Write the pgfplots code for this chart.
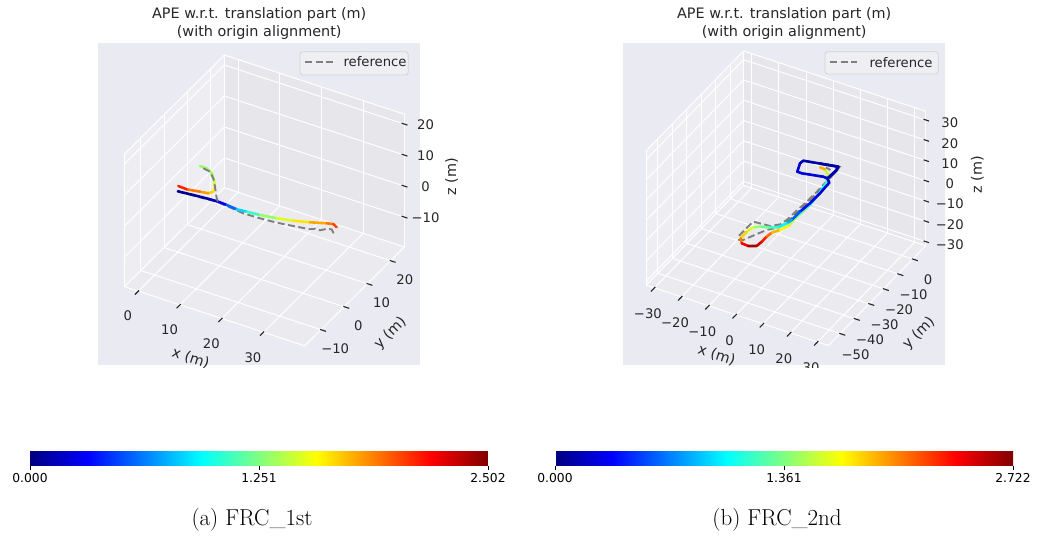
\documentclass[border=0pt]{standalone}
\usepackage{fontspec}
\newfontfamily\dv{DejaVu Sans}
\usepackage{pgfplots}
\pgfplotsset{compat=1.18}
\definecolor{bgc}{HTML}{EAEAF2}
\definecolor{panex}{HTML}{EEEEF2}
\definecolor{paney}{HTML}{E6E6EB}
\definecolor{panez}{HTML}{EBEBEF}
\definecolor{tickc}{HTML}{262626}
\definecolor{refc}{HTML}{7F7F7F}
\definecolor{legbg}{HTML}{EEEEF3}
\definecolor{legbd}{HTML}{D2D2D8}
\tikzset{
 tl/.style={font=\dv\fontsize{13.2}{15}\selectfont, text=tickc, inner sep=0pt, anchor=center},
 al/.style={font=\dv\fontsize{14.4}{16}\selectfont, text=tickc, inner sep=0pt, anchor=center},
 tt/.style={font=\dv\fontsize{14.4}{16}\selectfont, text=tickc, inner sep=0pt, anchor=center},
 tk/.style={draw=tickc, line width=1.1pt},
}
\pgfplotsset{
 paneaxis/.style={clip=false, hide axis, xticklabels={}, yticklabels={}, zticklabels={}},
 gridaxis/.style={clip=false, grid=major, major grid style={white, line width=1pt},
   axis line style={white, line width=1pt}, major tick length=0pt,
   xticklabels={}, yticklabels={}, zticklabels={}},
 Lbox/.style={at={(177.8pt,345.7pt)}, anchor=origin,
   x={(4.17pt,-1.37pt)}, y={(2.32pt,2.30pt)}, z={(0pt,3.1pt)},
   xmin=-3.3, xmax=39.9, ymin=-17, ymax=26, zmin=-19.6, zmax=23.2,
   xtick={0,10,20,30}, ytick={-10,0,10,20}, ztick={-10,0,10,20}},
 Rbox/.style={at={(820.2pt,373.4pt)}, anchor=origin,
   x={(2.72pt,-0.90pt)}, y={(1.452pt,1.49pt)}, z={(0pt,2.027pt)},
   xmin=-33, xmax=34, ymin=-58, ymax=9, zmin=-32, zmax=34.3,
   xtick={-30,-20,-10,0,10,20,30}, ytick={-50,-40,-30,-20,-10,0}, ztick={-30,-20,-10,0,10,20,30}},
 estline/.style={mesh, mesh/rows=1, point meta=explicit, line width=2.6pt, line cap=round, line join=round},
 refline/.style={draw=refc, line width=1.9pt, dash pattern=on 7pt off 3.5pt},
 cbar/.style={hide axis, scale only axis, width=1pt, height=1pt, anchor=center,
   colormap/jet, colorbar horizontal, point meta min=0,
   colorbar style={at={(parent axis.center)}, anchor=center, width=458pt, height=22pt,
     axis line style={draw=none}, xtick pos=left, tick align=outside,
     major tick length=4.5pt, xtick style={draw=black, line width=0.8pt},
     xticklabel style={font=\dv\fontsize{12.3}{14}\selectfont, text=black}}},
}
\begin{document}
\begin{tikzpicture}[x=1pt,y=1pt]
\path[use as bounding box] (0,0) rectangle (1037,537);
\fill[bgc] (98.3,172) rectangle (420,493.7);
\fill[bgc] (623.3,172) rectangle (945,493.7);
\begin{scope}
\clip (0,169) rectangle (1037,537);
% ---------------- left panes
\begin{axis}[Lbox, paneaxis]
\fill[panex] (axis cs:-3.3,-17,-19.6) -- (axis cs:-3.3,26,-19.6) -- (axis cs:-3.3,26,23.2) -- (axis cs:-3.3,-17,23.2) -- cycle;
\fill[paney] (axis cs:-3.3,26,-19.6) -- (axis cs:39.9,26,-19.6) -- (axis cs:39.9,26,23.2) -- (axis cs:-3.3,26,23.2) -- cycle;
\fill[panez] (axis cs:-3.3,-17,-19.6) -- (axis cs:39.9,-17,-19.6) -- (axis cs:39.9,26,-19.6) -- (axis cs:-3.3,26,-19.6) -- cycle;
\end{axis}
% ---------------- left grid + data
\begin{axis}[Lbox, gridaxis, colormap/jet, point meta min=0, point meta max=2.502]
\addplot3[refline] table {
x y z
0 0 0
3.50 0.26 0
7.38 0.62 0
9.33 0.69 0
11.48 0.45 0
15.80 -0.16 0
19.71 0.00 0
23.52 0.35 0
27.11 1.06 0
30.71 1.77 0
31.51 2.51 0
32.70 2.52 0
33.54 3.59 0
34.62 4.10 0
35.89 2.81 0
};
\addplot3[estline] table[meta=m] {
x y z m
0 0 0 0.0
3.46 0.45 0 0.05
7.25 0.85 0 0.1
9.18 0.95 0 0.2
11.30 0.78 0 0.4
13.88 0.44 0 0.7
16.12 0.73 0 0.95
19.11 1.08 0 1.2
22.72 1.79 0 1.4
26.14 2.79 0 1.55
29.44 4.06 0 1.7
32.63 5.53 0 1.85
33.95 6.01 0 1.95
35.16 5.29 0 2.1
};
\addplot3[estline] table[meta=m] {
x y z m
-0.60 10.64 0 1.3
1.02 10.61 0 1.3
2.84 9.52 0 1.32
4.47 7.57 0 1.38
5.86 5.49 0 1.48
6.46 3.68 0 1.6
5.85 2.62 0 1.75
4.07 2.25 0 1.85
1.24 1.60 0 1.95
-0.87 1.78 0 2.25
};
\addplot3[refline] table {
x y z
0.41 10.25 0
2.24 9.86 0
4.03 8.06 0
5.86 5.49 0
8.28 1.88 0
9.33 0.69 0
};
% ticks
\pgfplotsinvokeforeach{0,10,20,30}{\draw[tk] (axis cs:#1,-16.7,-19.6) -- (axis cs:#1,-18.5,-19.6);}
\pgfplotsinvokeforeach{-10,0,10,20}{\draw[tk] (axis cs:39.7,#1,-19.6) -- (axis cs:41.1,#1,-19.6);}
\pgfplotsinvokeforeach{-10,0,10,20}{\draw[tk] (axis cs:39.2,26,#1) -- (axis cs:40.6,26,#1);}
\node[tl, xshift=-10.5pt, yshift=-25pt] at (axis cs:0,-17,-19.6) {0};
\node[tl, xshift=-10.5pt, yshift=-25pt] at (axis cs:10,-17,-19.6) {10};
\node[tl, xshift=-10.5pt, yshift=-25pt] at (axis cs:20,-17,-19.6) {20};
\node[tl, xshift=-10.5pt, yshift=-25pt] at (axis cs:30,-17,-19.6) {30};
\node[tl, xshift=14.2pt, yshift=-18.5pt] at (axis cs:39.9,-10,-19.6) {−10};
\node[tl, xshift=14.2pt, yshift=-18.5pt] at (axis cs:39.9,0,-19.6) {0};
\node[tl, xshift=14.2pt, yshift=-18.5pt] at (axis cs:39.9,10,-19.6) {10};
\node[tl, xshift=14.2pt, yshift=-18.5pt] at (axis cs:39.9,20,-19.6) {20};
\node[tl, xshift=21pt, yshift=-1pt] at (axis cs:39.9,26,-10) {−10};
\node[tl, xshift=21pt, yshift=-1pt] at (axis cs:39.9,26,0) {0};
\node[tl, xshift=21pt, yshift=-1pt] at (axis cs:39.9,26,10) {10};
\node[tl, xshift=21pt, yshift=-1pt] at (axis cs:39.9,26,20) {20};
\end{axis}
% ---------------- right panes
\begin{axis}[Rbox, paneaxis]
\fill[panex] (axis cs:-33,-58,-32) -- (axis cs:-33,9,-32) -- (axis cs:-33,9,34.3) -- (axis cs:-33,-58,34.3) -- cycle;
\fill[paney] (axis cs:-33,9,-32) -- (axis cs:34,9,-32) -- (axis cs:34,9,34.3) -- (axis cs:-33,9,34.3) -- cycle;
\fill[panez] (axis cs:-33,-58,-32) -- (axis cs:34,-58,-32) -- (axis cs:34,9,-32) -- (axis cs:-33,9,-32) -- cycle;
\end{axis}
% ---------------- right grid + data
\begin{axis}[Rbox, gridaxis, colormap/jet, point meta min=0, point meta max=2.722]
\addplot3[refline] table {
x y z
0 0 0
6.3 1.6 0
6.6 -1.0 0
6.5 -5.8 0
4.4 -6.4 0
0 -7.3 0
-4.1 -8.1 0
-5.6 -3.4 0
-5.4 -1.3 0
-2.7 -0.7 0
0 0 0
6.3 1.6 0
6.6 -1.0 0
6.6 -6 0
6.6 -9 0
6.7 -15 0
6.6 -22 0
6.2 -28 0
6.0 -34 0
5.4 -37.5 0
3.0 -40.1 0
0 -40.4 0
-2.9 -40.7 0
-3.0 -46 0
-3.0 -50.9 0
-1.8 -52.4 0
-0.7 -51.7 0
1.2 -47 0
3.1 -42.7 0
5.6 -39.5 0
6.6 -36 0
6.9 -30 0
7.1 -22 0
7.0 -12 0
6.8 -6 0
6.5 -2.5 0
4.5 -1.5 0
2.6 -1.0 0
};
\addplot3[estline] table[meta=m] {
x y z m
8.03 -37.0 0 1.65
7.85 -30.9 0 1.4
8.38 -22.7 0 1.2
7.70 -14 0 1.05
6.95 -9.0 0 1.0
5.34 -4.43 0 1.35
2.88 -2.09 0 1.75
0.95 -1.91 0 2.1
};
\addplot3[estline] table[meta=m] {
x y z m
0 0 0 0.0
5.87 1.47 0 0.03
6.3 -1.0 0 0.05
6.07 -6.33 0 0.1
4.41 -6.13 0 0.2
-2.51 -8.03 0 0.3
-4.17 -7.95 0 0.25
-5.70 -3.24 0 0.2
-5.49 -1.37 0 0.15
-2.7 -0.68 0 0.12
0 0 0 0.1
5.87 1.47 0 0.1
6.3 -1.0 0 0.12
6.07 -6.33 0 0.15
7.70 -8.16 0 0.2
7.99 -15.1 0 0.25
7.91 -21.86 0 0.3
7.41 -27.8 0 0.45
7.36 -33.4 0 0.7
6.86 -35.9 0 0.9
5.61 -39.4 0 1.1
2.83 -41.0 0 1.25
0.35 -42.1 0 1.35
-1.34 -43.6 0 1.5
-1.98 -46.9 0 1.7
-1.86 -51.3 0 1.95
-0.23 -53.6 0 2.2
2.33 -53.9 0 2.6
4.67 -52.5 0 2.65
4.90 -49.5 0 2.45
4.93 -46.1 0 2.2
5.24 -43.2 0 2.0
6.81 -40.4 0 1.8
8.03 -37.0 0 1.65
};
\pgfplotsinvokeforeach{-30,-20,-10,0,10,20,30}{\draw[tk] (axis cs:#1,-57.4,-32) -- (axis cs:#1,-60.4,-32);}
\pgfplotsinvokeforeach{-50,-40,-30,-20,-10,0}{\draw[tk] (axis cs:33.7,#1,-32) -- (axis cs:35.9,#1,-32);}
\pgfplotsinvokeforeach{-30,-20,-10,0,10,20,30}{\draw[tk] (axis cs:33.2,9,#1) -- (axis cs:35.2,9,#1);}
\node[tl, xshift=-6.5pt, yshift=-25.4pt] at (axis cs:-30,-58,-32) {−30};
\node[tl, xshift=-6.5pt, yshift=-25.4pt] at (axis cs:-20,-58,-32) {−20};
\node[tl, xshift=-6.5pt, yshift=-25.4pt] at (axis cs:-10,-58,-32) {−10};
\node[tl, xshift=-6.5pt, yshift=-25.4pt] at (axis cs:0,-58,-32) {0};
\node[tl, xshift=-6.5pt, yshift=-25.4pt] at (axis cs:10,-58,-32) {10};
\node[tl, xshift=-6.5pt, yshift=-25.4pt] at (axis cs:20,-58,-32) {20};
\node[tl, xshift=-6.5pt, yshift=-25.4pt] at (axis cs:30,-58,-32) {30};
\node[tl, xshift=15.5pt, yshift=-20.7pt] at (axis cs:34,-50,-32) {−50};
\node[tl, xshift=15.5pt, yshift=-20.7pt] at (axis cs:34,-40,-32) {−40};
\node[tl, xshift=15.5pt, yshift=-20.7pt] at (axis cs:34,-30,-32) {−30};
\node[tl, xshift=15.5pt, yshift=-20.7pt] at (axis cs:34,-20,-32) {−20};
\node[tl, xshift=15.5pt, yshift=-20.7pt] at (axis cs:34,-10,-32) {−10};
\node[tl, xshift=15.5pt, yshift=-20.7pt] at (axis cs:34,0,-32) {0};
\node[tl, xshift=24pt, yshift=-3pt] at (axis cs:34,9,-30) {−30};
\node[tl, xshift=24pt, yshift=-3pt] at (axis cs:34,9,-20) {−20};
\node[tl, xshift=24pt, yshift=-3pt] at (axis cs:34,9,-10) {−10};
\node[tl, xshift=24pt, yshift=-3pt] at (axis cs:34,9,0) {0};
\node[tl, xshift=24pt, yshift=-3pt] at (axis cs:34,9,10) {10};
\node[tl, xshift=24pt, yshift=-3pt] at (axis cs:34,9,20) {20};
\node[tl, xshift=24pt, yshift=-3pt] at (axis cs:34,9,30) {30};
\end{axis}
% axis labels
\node[al, rotate=-18] at (190.7,178.7) {x (m)};
\node[al, rotate=45] at (390.5,203.5) {y (m)};
\node[al, rotate=90] at (451.7,360.3) {z (m)};
\node[al, rotate=-18] at (716.7,182) {x (m)};
\node[al, rotate=45] at (919,203.5) {y (m)};
\node[al, rotate=90] at (977.3,362) {z (m)};
\end{scope}
% titles
\node[tt] at (259.2,522) {APE w.r.t. translation part (m)};
\node[tt] at (259.2,504.7) {(with origin alignment)};
\node[tt] at (784.2,522) {APE w.r.t. translation part (m)};
\node[tt] at (784.2,504.7) {(with origin alignment)};
% legends
\draw[legbd, fill=legbg, rounded corners=3pt, line width=0.8pt] (300,462) rectangle (408.3,485.3);
\draw[refc, line width=1.9pt, dash pattern=on 7pt off 3.5pt] (305,475.3) -- (333.3,475.3);
\node[tl, anchor=west] at (343.3,475.3) {reference};
\draw[legbd, fill=legbg, rounded corners=3pt, line width=0.8pt] (825,463) rectangle (938.3,485.3);
\draw[refc, line width=1.9pt, dash pattern=on 7pt off 3.5pt] (830,474.7) -- (857.3,474.7);
\node[tl, anchor=west] at (869.3,474.7) {reference};
% colorbars
\begin{axis}[cbar, at={(259pt,91pt)}, point meta max=2.502,
  colorbar style={xtick={0,1.251,2.502}, xticklabels={0.000,1.251,2.502}}]
\addplot[draw=none] coordinates {(0,0)};
\end{axis}
\begin{axis}[cbar, at={(784pt,91pt)}, point meta max=2.722,
  colorbar style={xtick={0,1.361,2.722}, xticklabels={0.000,1.361,2.722}}]
\addplot[draw=none] coordinates {(0,0)};
\end{axis}
% captions
\node[font=\fontsize{23}{27}\selectfont, inner sep=0pt] at (252,17) {(a) FRC\_1st};
\node[font=\fontsize{23}{27}\selectfont, inner sep=0pt] at (777,17) {(b) FRC\_2nd};
\end{tikzpicture}
\end{document}
